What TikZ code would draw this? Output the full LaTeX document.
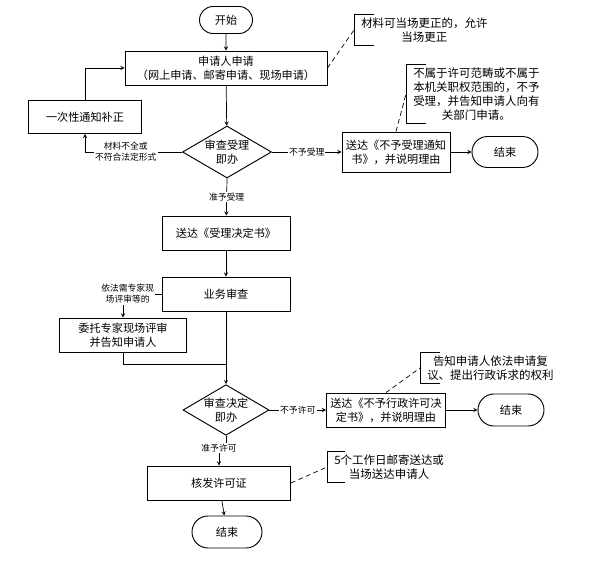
\documentclass[tikz,border=0pt]{standalone}
\usepackage{fontspec}
\setmainfont{Noto Sans CJK SC}
\usetikzlibrary{shapes.geometric,shapes.misc}

\begin{document}
\begin{tikzpicture}[>=stealth, x=0.03cm, y=-0.03cm,
	]

	\tikzset{box/.style={
				draw,line width=0.8pt,inner sep=0pt,align=center,
				font=\fontsize{9.5}{12}\selectfont}
	}
	\tikzset{terminal/.style={
				box,rounded rectangle}
	}
	\tikzset{decision/.style={
				box,diamond,aspect=1.7}
	}
	\tikzset{lbl/.style={
				fill=white,inner sep=1pt,align=center,
				font=\fontsize{7.5}{9.5}\selectfont}
	}
	\tikzset{note/.style={
				inner xsep=6pt,inner ysep=2.5pt,align=center,anchor=west,
				font=\fontsize{9.8}{12}\selectfont}
	}
	\tikzset{flow/.style={line width=0.6pt}}
	\tikzset{hint/.style={flow,dash pattern=on 4pt off 3pt}}

	\useasboundingbox (0,0) rectangle (605,562);

	% main column
	\node[terminal,minimum width=1.59cm,minimum height=0.81cm] (start) at (226,20) {开始};
	\node[box,minimum width=6.06cm,minimum height=1.02cm] (apply) at (226,68) {申请人申请\\（网上申请、邮寄申请、现场申请）};
	\node[box,minimum width=3.39cm,minimum height=0.99cm] (amend) at (85,117) {一次性通知补正};
	\node[decision,minimum width=2.67cm,minimum height=1.56cm] (check1) at (227,152) {审查受理\\即办};
	\node[box,minimum width=3.24cm,minimum height=1.2cm] (reject1) at (396,152) {送达《不予受理通知\\书》，并说明理由};
	\node[terminal,minimum width=1.98cm,minimum height=0.93cm] (end1) at (505,152) {结束};
	\node[box,minimum width=3.84cm,minimum height=1.02cm] (accept) at (226,233) {送达《受理决定书》};
	\node[box,minimum width=3.84cm,minimum height=1.02cm] (review) at (226,294) {业务审查};
	\node[box,minimum width=3.81cm,minimum height=1.02cm] (expert) at (123,335) {委托专家现场评审\\并告知申请人};
	\coordinate (merge) at (226,364);
	\node[decision,minimum width=2.58cm,minimum height=1.5cm] (check2) at (226,410) {审查决定\\即办};
	\node[box,minimum width=3.57cm,minimum height=1.02cm] (reject2) at (386,410) {送达《不予行政许可决\\定书》，并说明理由};
	\node[terminal,minimum width=1.98cm,minimum height=0.96cm] (end2) at (511,410) {结束};
	\node[box,minimum width=4.29cm,minimum height=1.02cm] (issue) at (219,483) {核发许可证};
	\node[terminal,minimum width=2.1cm,minimum height=0.96cm] (end3) at (227,532) {结束};

	% connectors
	\draw[flow,->] (start) -- (apply);
	\draw[flow,->] (apply) -- (check1);
	\draw[flow,->] (check1.west) -| node[lbl,pos=0.29]{材料不全或\\不符合法定形式} (amend.south);
	\draw[flow,->] (amend.north) |- (apply.west);
	\draw[flow,->] (check1.east) -- node[lbl]{不予受理} (reject1);
	\draw[flow,->] (reject1) -- (end1);
	\draw[flow,->] (check1.south) -- node[lbl]{准予受理} (accept);
	\draw[flow,->] (accept) -- (review);
	\draw[flow,->] (review.west) -| node[lbl,pos=0.5,xshift=4pt]{依法需专家现\\场评审等的} (expert.north);
	\draw[flow] (expert.south) |- (merge);
	\draw[flow,->] (review.south) -- (check2.north);
	\draw[flow,->] (check2.east) -- node[lbl]{不予许可} (reject2);
	\draw[flow,->] (reject2) -- (end2);
	\node[lbl] (grant) at (219,448) {准予许可};
	\draw[flow] (check2.south) -- (check2.south |- grant.north);
	\draw[flow,->] (grant.south) -- (issue.north);
	\draw[flow,->] (issue) -- (end3);

	% notes
	\node[note] (note1) at (354,30) {材料可当场更正的，允许\\当场更正};
	\draw[flow] (note1.north west) ++(20,0) -- (note1.north west) -- (note1.south west) -- ++(20,0);
	\draw[hint] (apply.east) -- (note1.west);

	\node[note] (note2) at (406,94) {不属于许可范畴或不属于\\本机关职权范围的，不予\\受理，并告知申请人向有\\关部门申请。};
	\draw[flow] (note2.north west) ++(20,0) -- (note2.north west) -- (note2.south west) -- ++(20,0);
	\draw[hint] (reject1.north) -- (note2.west);

	\node[note] (note3) at (420,368) {告知申请人依法申请复\\议、提出行政诉求的权利};
	\draw[flow] (note3.north west) ++(20,0) -- (note3.north west) -- (note3.south west) -- ++(20,0);
	\draw[hint] (reject2.north) -- (note3.west);

	\node[note] (note4) at (327,467) {5个工作日邮寄送达或\\当场送达申请人};
	\draw[flow] (note4.north west) ++(18,0) -- (note4.north west) -- (note4.south west) -- ++(18,0);
	\draw[hint] (issue.east) -- (note4.west);

\end{tikzpicture}
\end{document}
